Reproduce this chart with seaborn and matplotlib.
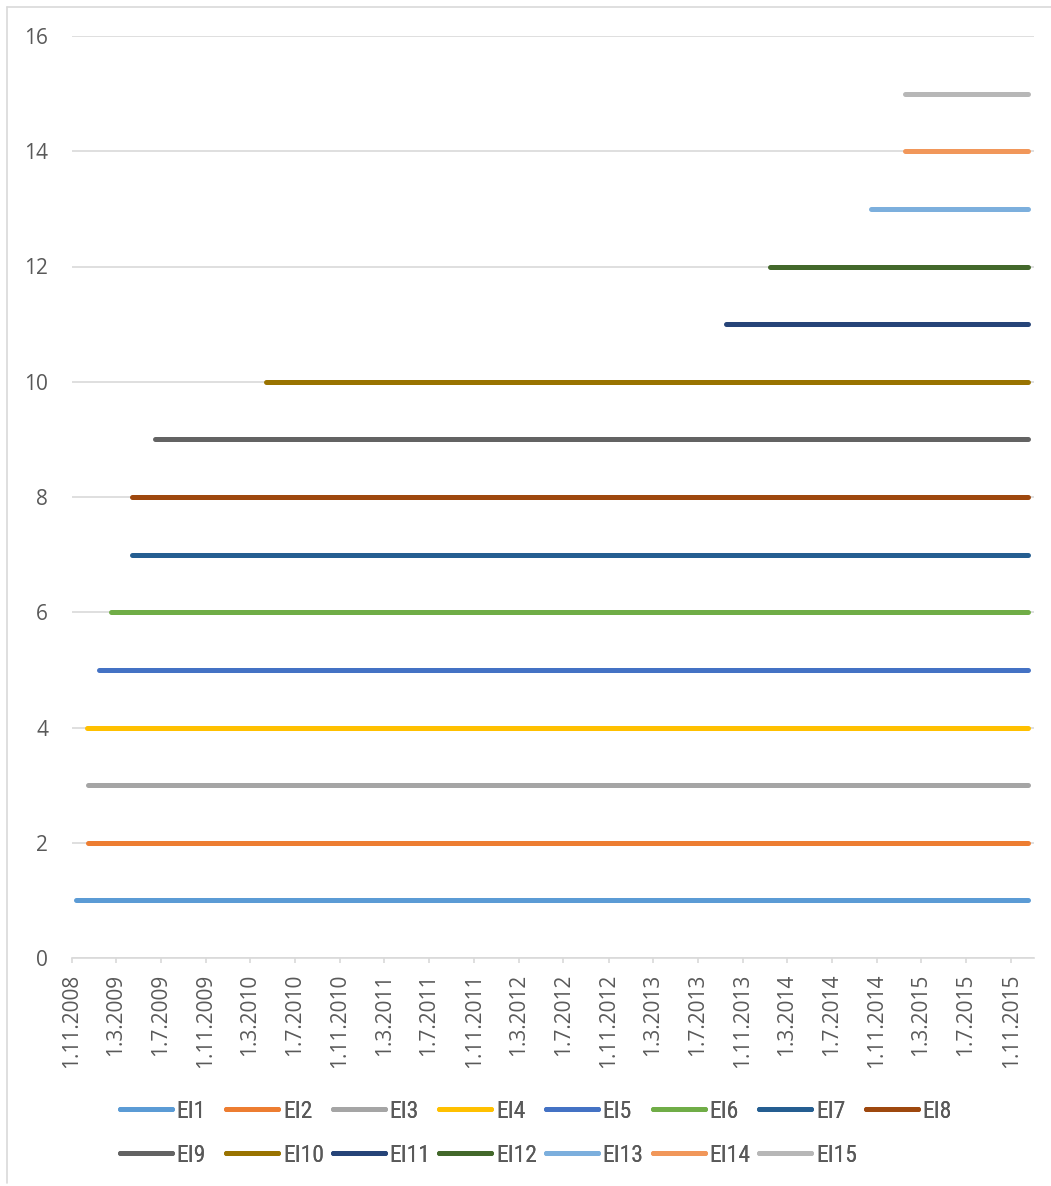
import matplotlib
matplotlib.use("Agg")
import matplotlib.pyplot as plt
from matplotlib import font_manager
from matplotlib.lines import Line2D
import seaborn as sns
import pandas as pd

# Series names and the period each one is active
series = ["EI1", "EI2", "EI3", "EI4", "EI5", "EI6", "EI7", "EI8",
          "EI9", "EI10", "EI11", "EI12", "EI13", "EI14", "EI15"]
levels = [1, 2, 3, 4, 5, 6, 7, 8, 9, 10, 11, 12, 13, 14, 15]
start_dates = ["2008-11-14", "2008-12-15", "2008-12-15", "2008-12-13",
               "2009-01-13", "2009-02-15", "2009-04-15", "2009-04-15",
               "2009-06-15", "2010-04-15", "2013-09-15", "2014-01-15",
               "2014-10-15", "2015-01-15", "2015-01-15"]
end_dates = ["2015-12-16"] * 15
colors = ["#5B9BD5", "#ED7D31", "#A5A5A5", "#FFC000", "#4472C4", "#70AD47",
          "#255E91", "#9E480E", "#636363", "#997300", "#264478", "#43682B",
          "#7CAFDD", "#F1975A", "#B7B7B7"]

# Axis ticks: every four months
tick_dates = pd.date_range("2008-11-01", "2015-11-01", freq="4MS")
x_min, x_max = "2008-11-01", "2016-01-01"

rows = []
for name, lvl, s, e in zip(series, levels, start_dates, end_dates):
    rows.append({"date": pd.Timestamp(s), "value": lvl, "series": name})
    rows.append({"date": pd.Timestamp(e), "value": lvl, "series": name})
df = pd.DataFrame(rows)

sns.set_theme(style="white")
plt.rcParams["font.family"] = ["Open Sans", "DejaVu Sans"]

# Legend text uses a condensed face when one is available
installed = {f.name for f in font_manager.fontManager.ttflist}
leg_font = {"family": ["Roboto", "DejaVu Sans"], "size": 16}
for cand in ["Liberation Sans Narrow", "Roboto Condensed", "Open Sans Condensed"]:
    if cand in installed:
        leg_font = {"family": cand, "size": 17}
        break

W, H = 1051, 1186
fig = plt.figure(figsize=(W / 100, H / 100), dpi=100)
ax = fig.add_axes([71.7 / W, 1 - 958 / H, (1033.5 - 71.7) / W, (958 - 36) / H])

grid_c = "#D9D9D9"
text_c = "#595959"

sns.lineplot(data=df, x="date", y="value", hue="series", hue_order=series,
             palette=dict(zip(series, colors)), ax=ax, linewidth=3.6,
             solid_capstyle="round", estimator=None, legend=True, zorder=3)

handles, labels = ax.get_legend_handles_labels()
if ax.get_legend() is not None:
    ax.get_legend().remove()

ax.set_xlim(pd.Timestamp(x_min), pd.Timestamp(x_max))
ax.set_ylim(0, 16)
ax.set_yticks(range(0, 17, 2))
ax.set_xticks(tick_dates)
ax.set_xticklabels([f"{d.day}.{d.month}.{d.year}" for d in tick_dates],
                   rotation=90, va="top", ha="center")
ax.set_xlabel("")
ax.set_ylabel("")

ax.yaxis.grid(True, color=grid_c, linewidth=1.2, zorder=0)
ax.xaxis.grid(False)
ax.set_axisbelow(True)
for side in ["top", "right", "left"]:
    ax.spines[side].set_visible(False)
ax.spines["bottom"].set_color(grid_c)
ax.spines["bottom"].set_linewidth(1.2)

ax.tick_params(axis="x", which="major", bottom=True, length=3.6, width=1.2,
               color=grid_c, pad=7.5, labelsize=15, labelcolor=text_c)
ax.tick_params(axis="y", left=False, pad=11, labelsize=15, labelcolor=text_c)

# Legend: two rows of evenly spaced entries
col_step = 106.6
row_y = [1 - 1111 / H, 1 - 1155 / H]
per_row = 8
fs_px = leg_font["size"] * 100 / 72
for i, (h, lab) in enumerate(zip(handles, labels)):
    r, c = divmod(i, per_row)
    x0 = 119.5 + c * col_step
    leg = fig.legend([h], [lab], loc="center left",
                     bbox_to_anchor=(x0 / W, row_y[r]), frameon=False,
                     prop=leg_font, handlelength=52 / fs_px,
                     handletextpad=0.2, borderpad=0, borderaxespad=0)
    for line in leg.get_lines():
        line.set_linewidth(3.6)
        line.set_solid_capstyle("round")
    for t in leg.get_texts():
        t.set_color(text_c)
    fig.add_artist(leg)

# Light frame on the left and top edges
fig.add_artist(Line2D([7 / W, 7 / W], [1 - 7 / H, 1 - 1183 / H],
                      transform=fig.transFigure, color=grid_c, linewidth=1.2))
fig.add_artist(Line2D([7 / W, 1.0], [1 - 7 / H, 1 - 7 / H],
                      transform=fig.transFigure, color=grid_c, linewidth=1.2))

fig.savefig("out.png", dpi=100, facecolor="white")
